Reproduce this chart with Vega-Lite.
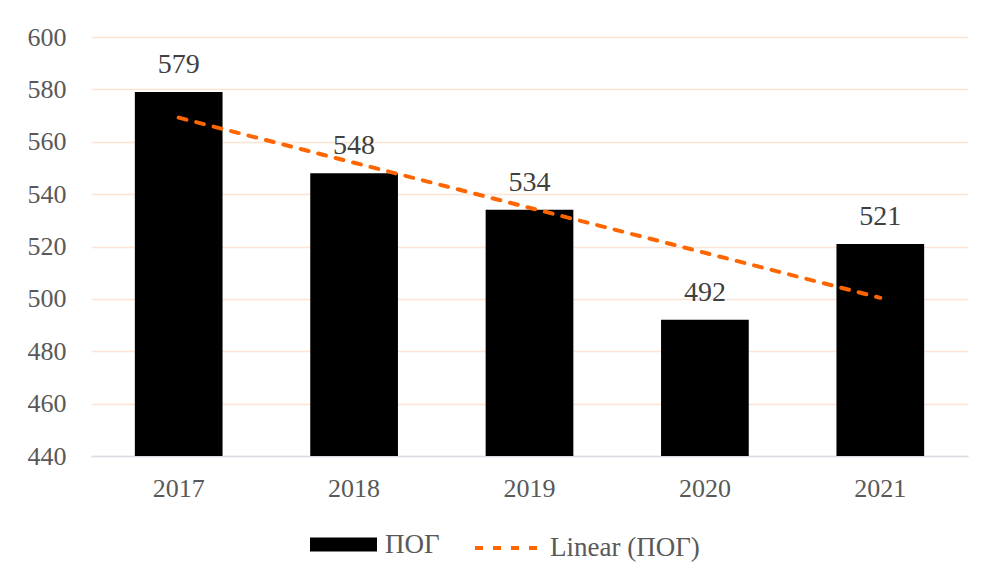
{
  "$schema": "https://vega.github.io/schema/vega-lite/v6.json",
  "autosize": "none",
  "width": 877,
  "height": 419,
  "padding": {"left": 91, "top": 37, "right": 20, "bottom": 119},
  "background": "#ffffff",
  "config": {
    "view": {"stroke": null},
    "font": "Liberation Serif"
  },
  "data": {
    "values": [
      {"year": "2017", "value": 579, "trend": 569.2},
      {"year": "2018", "value": 548, "trend": 552.0},
      {"year": "2019", "value": 534, "trend": 534.8},
      {"year": "2020", "value": 492, "trend": 517.6},
      {"year": "2021", "value": 521, "trend": 500.4}
    ]
  },
  "encoding": {
    "x": {
      "field": "year", "type": "ordinal",
      "scale": {"paddingInner": 0.5, "paddingOuter": 0.25},
      "axis": {"title": null, "labelAngle": 0, "ticks": false, "domainColor": "#D9DEE6", "domainWidth": 1.5, "labelPadding": 19, "grid": false,
        "labelFont": "Liberation Serif", "labelFontSize": 26, "labelColor": "#595959"}
    }
  },
  "layer": [
    {
      "mark": {"type": "bar", "clip": true},
      "encoding": {
        "y": {
          "field": "value", "type": "quantitative",
          "scale": {"domain": [440, 600], "nice": false, "zero": false},
          "axis": {"title": null, "values": [440,460,480,500,520,540,560,580,600], "labelOverlap": false, "ticks": false, "domain": false, "gridColor": "#FCE4D6", "gridWidth": 1.5, "labelPadding": 25,
            "labelFont": "Liberation Serif", "labelFontSize": 26, "labelColor": "#595959"}
        },
        "color": {
          "datum": "ПОГ", "type": "nominal",
          "scale": {"range": ["#000000"]},
          "legend": {
            "title": null, "orient": "none", "legendX": 219, "legendY": 474,
            "symbolType": "M-1,-0.21H1V0.21H-1Z", "symbolSize": 4489,
            "symbolStrokeWidth": 0, "labelOffset": 8,
            "labelFont": "Liberation Serif", "labelFontSize": 27, "labelColor": "#595959"
          }
        }
      }
    },
    {
      "mark": {"type": "text", "dy": -13, "baseline": "bottom", "fontSize": 28, "color": "#404040", "font": "Liberation Serif"},
      "encoding": {
        "y": {"field": "value", "type": "quantitative"},
        "text": {"field": "value", "type": "quantitative"}
      }
    },
    {
      "mark": {"type": "line", "color": "#FF6600", "strokeWidth": 4, "strokeCap": "round"},
      "encoding": {
        "y": {"field": "trend", "type": "quantitative"},
        "strokeDash": {
          "datum": "Linear (ПОГ)", "type": "nominal",
          "scale": {"range": [[8, 10]]},
          "legend": {
            "title": null, "orient": "none", "legendX": 382, "legendY": 474,
            "symbolType": "stroke", "symbolSize": 4900, "symbolStrokeColor": "#FF6600",
            "symbolStrokeWidth": 4, "labelOffset": 3,
            "labelFont": "Liberation Serif", "labelFontSize": 27, "labelColor": "#595959"
          }
        }
      }
    }
  ]
}
